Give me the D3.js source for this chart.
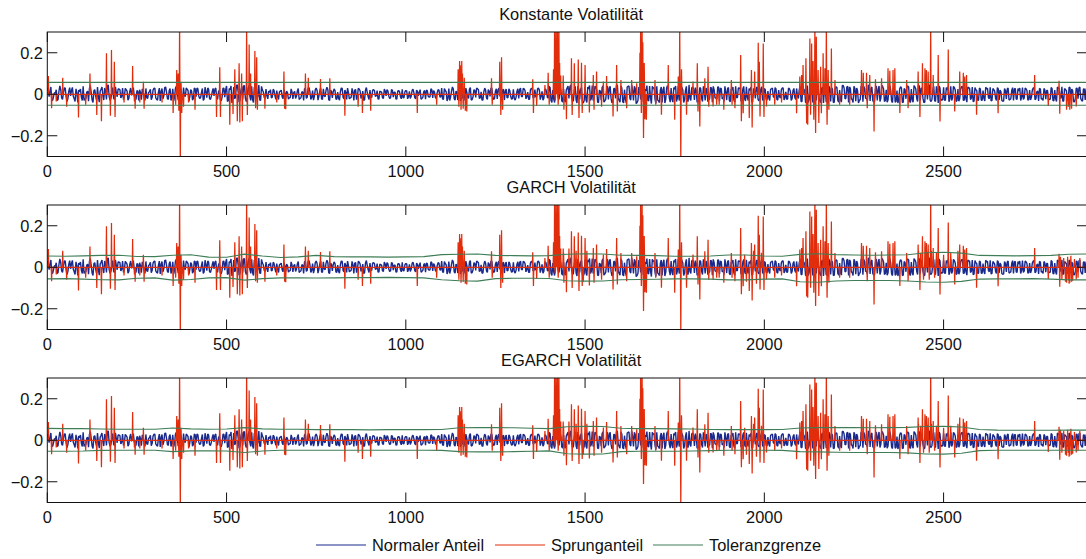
<!DOCTYPE html>
<html>
<head>
<meta charset="utf-8">
<script src="https://cdn.jsdelivr.net/npm/d3@7"></script>
<style>
  body { margin: 0; background: #fff; }
  svg { display: block; }
  text { font-family: "Liberation Sans", Arial, Helvetica, sans-serif; fill: #111; }
</style>
</head>
<body>
<svg id="chart" width="1086" height="559"></svg>
<script>
// ---- data -------------------------------------------------------------
const xTicks = [0, 500, 1000, 1500, 2000, 2500];
const yTicks = [-0.2, 0, 0.2];
const panelTitles = ["Konstante Volatilität", "GARCH Volatilität", "EGARCH Volatilität"];
const legendLabels = ["Normaler Anteil", "Sprunganteil", "Toleranzgrenze"];

// normal (diffusive) part in units of 1e-3:
// normalPart at observations 0, 5, 10, ...; normalPartMid at 2.5, 7.5, 12.5, ...
const normalStep = 5;
const normalPart = [
  28,-12,35,-30,8,22,-25,40,-18,5,30,-35,15,-8,33,-22,26,-40,12,-15,
  38,-20,10,-33,42,-28,18,-10,35,-38,24,-5,30,-25,45,-30,8,-20,36,-12,
  25,-18,30,-10,22,-28,14,-6,32,-22,18,-30,8,26,-15,28,-20,12,-26,20,
  30,-25,10,-32,28,-8,35,-20,18,-30,26,-12,38,-28,15,-22,32,-10,24,-34,
  22,-28,30,-12,26,-20,8,-30,34,-16,24,-26,12,-8,30,-24,20,-32,28,-14,
  40,-30,22,-42,35,-15,45,-38,18,-25,42,-35,28,-10,38,-40,25,-20,44,-30,
  20,-15,25,-22,10,-18,24,-8,18,-25,15,-12,22,-20,8,-16,26,-22,14,-10,
  28,-20,12,-30,25,-15,32,-25,18,-10,30,-28,15,-22,26,-12,34,-26,20,-18,
  26,-22,10,-28,30,-15,20,-25,8,-18,28,-30,22,-10,25,-20,15,-26,32,-12,
  20,-15,22,-10,18,-24,12,-18,25,-8,16,-20,22,-14,10,-22,18,-12,24,-16,
  18,-22,14,-10,24,-16,20,-8,22,-20,12,-24,18,-14,26,-18,10,-20,22,-12,
  30,-25,18,-32,28,-12,35,-22,15,-28,30,-18,25,-30,10,-20,32,-26,22,-15,
  26,-20,12,-28,30,-18,22,-10,28,-25,16,-22,30,-12,20,-28,25,-15,18,-24,
  24,-28,15,-20,30,-12,26,-22,10,-25,28,-18,22,-10,30,-26,14,-20,25,-16,
  38,-30,20,-40,35,-15,42,-32,25,-38,30,-20,45,-35,18,-28,40,-25,32,-42,
  36,-40,25,-30,42,-18,35,-38,20,-28,40,-32,15,-25,38,-42,28,-20,44,-30,
  40,-35,22,-42,38,-20,45,-30,28,-40,35,-25,42,-38,18,-30,40,-45,30,-22,
  38,-32,20,-40,36,-25,42,-18,30,-38,25,-35,40,-22,32,-40,18,-28,45,-30,
  35,-28,18,-36,32,-20,38,-30,15,-25,34,-38,22,-18,36,-32,26,-15,38,-28,
  32,-36,20,-28,38,-15,30,-34,25,-22,36,-30,18,-38,28,-20,35,-32,22,-25,
  28,-24,15,-30,26,-12,32,-25,20,-18,30,-28,12,-22,26,-30,18,-15,28,-20,
  38,-35,22,-40,42,-25,35,-38,20,-30,44,-32,28,-42,36,-18,40,-35,25,-38,
  36,-30,20,-38,42,-22,35,-40,28,-25,38,-34,18,-30,40,-36,25,-20,44,-32,
  35,-38,25,-30,40,-20,38,-35,22,-28,42,-32,30,-38,18,-25,36,-40,28,-22,
  40,-32,25,-38,35,-20,42,-30,28,-40,36,-25,45,-35,20,-30,38,-42,30,-25,
  34,-30,20,-36,38,-18,32,-35,25,-22,36,-30,15,-38,30,-25,35,-32,22,-28,
  30,-28,18,-32,26,-15,34,-30,22,-20,32,-28,12,-34,28,-22,30,-25,18,-30,
  28,-25,15,-30,32,-18,26,-28,20,-15,30,-26,12,-32,25,-20,28,-24,18,-22,
  32,-30,20,-35,28,-15,36,-32,22,-25,34,-28,18,-36,30,-22,35,-30,25,-28
];
const normalPartMid = [
  20,15,-28,-10,5,-30,14,22,-25,30,-12,-20,32,18,-10,-35,6,20,25,-30,
  -30,-22,15,28,8,-40,22,-30,-12,15,35,-28,18,40,-10,-20,32,-25,8,25,
  22,-10,-25,28,15,-20,30,18,-8,-25,14,22,-26,12,-30,-18,8,24,-15,28,
  -18,-28,30,15,-22,32,10,-25,28,-12,-32,30,15,-20,26,-28,-8,30,18,-12,
  15,-20,26,30,-8,-18,28,-22,12,30,-20,-10,28,24,-18,12,-26,-15,30,22,
  -35,28,40,-18,-22,42,10,-30,38,40,-20,-15,42,-30,-25,35,45,-10,-28,38,
  12,-20,-8,15,22,-14,18,-25,-10,12,20,-22,6,15,-24,-18,12,8,-20,16,
  -25,-18,10,28,-20,30,12,-15,-28,22,18,-10,30,-25,-8,20,22,-30,15,12,
  18,-25,-20,12,28,-22,10,30,-22,-15,12,20,-26,28,16,-10,-30,20,8,-25,
  -14,20,18,-8,-22,15,10,-20,16,22,-8,-18,20,10,-24,15,12,-22,-18,12,
  16,-12,-20,18,8,-22,14,10,-24,-15,18,20,-10,-12,22,18,-16,8,20,-14,
  -22,28,12,-20,-30,15,25,-28,10,22,-32,-18,20,30,-15,25,-28,-12,18,30,
  22,-18,-28,10,20,-25,15,30,-12,-20,26,22,-8,-28,24,15,-18,26,-10,-20,
  -20,-15,26,22,-10,28,18,-12,-24,20,28,-15,-14,26,20,-10,-28,22,12,-18,
  32,-40,-22,28,42,-25,18,-38,-30,20,40,35,-15,-30,38,-42,20,25,-35,-30,
  -28,35,42,-20,-30,38,22,-40,15,32,-38,-25,40,30,-20,-35,28,42,-18,-38,
  30,-42,-25,35,40,-28,20,38,-45,-30,22,40,-35,25,42,-32,-18,38,30,-45,
  -28,-40,35,22,-42,30,20,-38,-25,32,40,-18,-30,42,22,-28,38,-35,-20,30,
  25,32,-38,-20,28,-35,15,30,-36,-22,30,38,-18,-25,34,30,-22,-36,12,28,
  -30,25,35,-38,-18,30,28,-22,38,-32,-15,28,34,-36,20,30,-25,-18,36,-32,
  22,-28,-18,25,30,-15,26,-28,-12,22,30,-18,-25,30,15,-20,28,-25,-10,22,
  -35,42,20,-38,-40,28,25,-35,42,30,-18,-40,35,22,-38,-44,28,30,-40,25,
  32,-38,-25,42,30,-20,38,35,-22,-40,28,30,-42,-25,35,38,-20,-32,40,28,
  -30,-35,40,22,-35,42,25,-30,-38,28,20,-40,32,-35,-42,25,30,-38,22,32,
  35,-40,-28,42,25,-35,40,30,-20,-38,32,42,-28,-25,38,-35,22,40,-30,-28,
  -28,32,36,-22,-30,38,20,-30,-34,25,38,-28,-22,35,30,-20,-36,32,18,-30,
  25,-30,-20,34,28,-22,-32,28,15,-30,26,20,-30,-32,18,25,-28,-22,32,26,
  -22,28,30,-15,-25,30,18,-26,-28,20,32,-22,15,28,-24,-30,20,18,-28,-25,
  28,-32,-22,35,30,-20,-34,28,18,-30,32,25,-36,-22,28,30,-20,-34,25,28
];

// jump part: [observation, return]; zero everywhere else
const jumpsShared = [
  [3,0.088],[12,-0.067],[25,-0.035],[43,0.08],[54,-0.06],[87,-0.112],[107,-0.05],[119,0.1],
  [138,-0.1],[151,-0.13],[165,0.197],[176,-0.104],[179,0.213],[187,0.157],[189,-0.11],[214,-0.04],
  [238,0.136],[243,-0.035],[245,-0.07],[258,-0.04],[268,0.06],[270,-0.07],[320,-0.04],[351,-0.09],
  [358,-0.05],[361,0.117],[365,0.1],[367,-0.08],[369,0.34],[371,-0.34],[373,0.06],[375,-0.09],
  [380,-0.06],[394,-0.04],[412,-0.075],[472,-0.11],[481,0.13],[483,-0.11],[509,-0.147],[518,-0.095],
  [523,0.12],[530,-0.13],[535,0.149],[537,-0.136],[542,0.1],[544,-0.13],[556,0.34],[558,-0.1],
  [563,0.24],[567,0.1],[579,0.208],[581,-0.067],[584,0.178],[586,-0.075],[607,-0.07],[640,-0.04],
  [660,0.109],[662,-0.07],[665,-0.072],[720,0.1],[728,0.08],[762,0.074],[788,0.077],[830,-0.104],
  [867,-0.06],[879,-0.09],[902,-0.08],[1032,-0.09],[1086,-0.05],
  [1146,0.12],[1148,-0.06],[1150,0.16],[1152,0.14],[1154,-0.075],[1156,0.16],[1158,0.1],[1160,-0.07],
  [1163,0.08],[1166,-0.08],[1170,-0.083],[1239,0.077],[1241,-0.05],[1262,0.157],[1265,-0.1],[1267,0.178],
  [1270,-0.075],[1354,0.072],[1356,-0.09],[1365,-0.056],[1388,0.045],[1397,0.104],[1400,-0.05],
  [1412,0.12],[1415,0.34],[1417,-0.03],[1419,0.34],[1421,0.2],[1423,0.34],[1425,-0.05],[1427,0.34],
  [1429,0.15],[1432,0.09],[1439,0.09],[1441,-0.075],[1448,-0.12],[1462,0.173],[1464,-0.1],[1470,0.149],
  [1481,0.168],[1483,-0.115],[1490,0.152],[1492,-0.09],[1500,0.141],[1512,-0.088],[1523,0.093],[1525,-0.075],
  [1532,0.109],[1546,-0.06],[1551,0.061],[1560,0.088],[1578,-0.107],[1588,0.141],[1590,-0.083],[1600,0.069],
  [1616,-0.067],[1630,0.069],[1644,0.053],[1653,0.2],[1655,0.34],[1657,-0.09],[1659,0.34],[1661,0.25],
  [1663,-0.211],[1665,0.15],[1667,-0.12],[1671,-0.123],[1695,0.069],[1697,-0.05],[1713,-0.099],[1732,0.141],
  [1750,-0.123],[1760,0.085],[1764,0.34],[1767,-0.34],[1769,0.12],[1783,-0.099],[1801,0.061],[1813,0.149],
  [1815,-0.083],[1820,-0.155],[1834,0.077],[1843,0.133],[1845,-0.06],[1857,-0.059],[1867,-0.05],[1874,-0.05],
  [1887,-0.075],[1908,0.069],[1910,-0.05],[1918,-0.067],[1934,0.189],[1936,-0.13],[1941,-0.091],[1958,-0.115],
  [1964,0.117],[1966,-0.16],[1973,0.109],[1983,0.248],[1986,0.157],[1988,-0.107],[1997,0.245],[1999,-0.11],
  [2006,-0.059],[2029,-0.051],[2048,-0.04],[2090,-0.091],[2099,0.085],[2104,0.093],[2108,0.141],[2116,0.173],
  [2118,-0.141],[2121,-0.147],[2127,0.269],[2129,-0.099],[2132,0.245],[2136,0.16],[2138,-0.123],[2141,0.34],
  [2143,-0.187],[2145,0.277],[2150,0.117],[2152,-0.139],[2157,0.133],[2159,-0.091],[2164,0.197],[2169,0.125],
  [2173,0.34],[2175,-0.147],[2178,0.117],[2180,-0.075],[2187,0.221],[2197,0.069],[2210,-0.051],[2238,-0.05],
  [2271,0.117],[2276,0.104],[2285,0.104],[2287,-0.067],[2294,0.093],[2306,-0.179],[2310,0.072],[2327,0.077],
  [2345,0.125],[2350,0.113],[2359,0.117],[2364,0.125],[2378,-0.09],[2397,0.069],[2401,-0.067],[2429,0.109],
  [2434,-0.11],[2441,0.149],[2448,0.125],[2452,0.117],[2457,0.109],[2464,0.34],[2471,0.093],[2485,0.189],
  [2490,-0.131],[2513,0.216],[2531,-0.083],[2545,0.109],[2555,0.104],[2559,0.085],[2564,0.093],[2592,-0.099],
  [2652,-0.091],[2754,0.093],[2792,-0.056],[2822,0.065],[2824,-0.094],[2843,-0.075],[2848,-0.06],[2852,-0.075],
  [2857,-0.07],[2870,-0.059]
];
// additional jumps flagged under the time-varying volatility models
const jumpsModelExtra = [
  [1440,0.07],[1455,0.09],[1475,0.08],[1495,-0.07],[1505,0.08],
  [1945,0.06],[1950,-0.07],[1970,0.08],[1978,-0.08],[1992,0.07],
  [2430,0.08],[2436,0.07],[2444,-0.06],[2455,0.075],[2460,-0.06],[2466,0.08],[2475,-0.05],[2480,0.07],
  [2500,0.06],[2520,0.07],[2540,0.08],
  [2826,0.05],[2830,-0.06],[2835,0.045],[2840,-0.07],[2846,0.05],[2850,-0.08],[2855,0.055],
  [2860,-0.065],[2865,0.04],[2875,-0.05],[2880,0.045]
];

// tolerance limits, one value every 50 observations
const tolStep = 50;
const tolConstUpper = 0.057;
const tolConstLower = -0.053;
const tolGarchUpper = [
  0.054,0.053,0.055,0.057,0.058,0.052,0.051,0.058,0.060,0.049,0.048,0.063,0.054,0.047,0.050,0.057,
  0.051,0.050,0.050,0.049,0.050,0.051,0.061,0.063,0.064,0.057,0.056,0.055,0.056,0.063,0.065,0.064,
  0.058,0.057,0.056,0.053,0.053,0.054,0.059,0.059,0.054,0.053,0.062,0.065,0.061,0.059,0.058,0.059,
  0.060,0.070,0.072,0.068,0.057,0.056,0.055,0.056,0.057,0.063,0.064
];
const tolGarchLower = [
  -0.056,-0.055,-0.057,-0.060,-0.061,-0.053,-0.051,-0.062,-0.059,-0.051,-0.050,-0.062,-0.055,-0.051,-0.051,-0.052,
  -0.051,-0.050,-0.050,-0.049,-0.050,-0.051,-0.060,-0.065,-0.067,-0.055,-0.053,-0.053,-0.054,-0.065,-0.067,-0.066,
  -0.060,-0.059,-0.058,-0.056,-0.056,-0.057,-0.061,-0.061,-0.057,-0.056,-0.070,-0.072,-0.066,-0.064,-0.064,-0.064,
  -0.066,-0.071,-0.072,-0.068,-0.057,-0.056,-0.056,-0.055,-0.057,-0.061,-0.061
];
const tolEgarchUpper = [
  0.057,0.056,0.056,0.054,0.053,0.053,0.053,0.059,0.055,0.053,0.054,0.061,0.055,0.053,0.053,0.051,
  0.051,0.051,0.050,0.051,0.051,0.051,0.052,0.060,0.061,0.061,0.060,0.058,0.056,0.065,0.067,0.066,
  0.058,0.056,0.056,0.055,0.054,0.052,0.051,0.051,0.051,0.052,0.059,0.061,0.061,0.061,0.060,0.061,
  0.062,0.066,0.067,0.064,0.052,0.049,0.048,0.048,0.048,0.049,0.049
];
const tolEgarchLower = [
  -0.053,-0.053,-0.052,-0.049,-0.048,-0.048,-0.048,-0.055,-0.051,-0.051,-0.052,-0.059,-0.052,-0.048,-0.048,-0.048,
  -0.048,-0.048,-0.048,-0.048,-0.048,-0.048,-0.049,-0.055,-0.056,-0.056,-0.055,-0.053,-0.051,-0.065,-0.067,-0.066,
  -0.055,-0.053,-0.053,-0.053,-0.052,-0.050,-0.048,-0.048,-0.048,-0.049,-0.055,-0.056,-0.058,-0.059,-0.059,-0.059,
  -0.061,-0.066,-0.067,-0.063,-0.050,-0.048,-0.048,-0.048,-0.048,-0.048,-0.048
];

// ---- layout -----------------------------------------------------------
const colors = { normal: "#1a2a8c", jump: "#e22d0c", tol: "#3f7d57" };
const xDomain = [0, 2900];
const plotLeft = 47.3, plotRight = 1087;
const panelTops = [32, 205, 378];
const panelHeight = 124.5;
const tickLen = 10;
const fontSize = 16.4;

const svg = d3.select("#chart");
const x = d3.scaleLinear().domain(xDomain).range([plotLeft, plotRight]);

const normalSeries = [];
normalPart.forEach((v, i) => {
  normalSeries.push([i * normalStep, v / 1000]);
  if (i < normalPartMid.length) normalSeries.push([i * normalStep + normalStep / 2, normalPartMid[i] / 1000]);
});

function jumpSeries(list) {
  const sorted = list.slice().sort((a, b) => a[0] - b[0]);
  const pts = [[xDomain[0], 0]];
  sorted.forEach(([t, v]) => { pts.push([t - 1, 0], [t, v], [t + 1, 0]); });
  pts.push([xDomain[1], 0]);
  return pts;
}
function tolSeries(arr) { return arr.map((v, i) => [i * tolStep, v]); }
function constSeries(v) { return [[xDomain[0], v], [xDomain[1], v]]; }

const panels = [
  { title: panelTitles[0], jumps: jumpSeries(jumpsShared),
    upper: constSeries(tolConstUpper), lower: constSeries(tolConstLower) },
  { title: panelTitles[1], jumps: jumpSeries(jumpsShared.concat(jumpsModelExtra)),
    upper: tolSeries(tolGarchUpper), lower: tolSeries(tolGarchLower) },
  { title: panelTitles[2], jumps: jumpSeries(jumpsShared.concat(jumpsModelExtra)),
    upper: tolSeries(tolEgarchUpper), lower: tolSeries(tolEgarchLower) }
];

panels.forEach((p, k) => {
  const top = panelTops[k];
  const y = d3.scaleLinear().domain([-0.3, 0.3]).range([top + panelHeight, top]);
  const line = d3.line().x(d => x(d[0])).y(d => y(d[1]));

  const clipId = "clip" + k;
  svg.append("clipPath").attr("id", clipId)
    .append("rect").attr("x", plotLeft).attr("y", top)
    .attr("width", plotRight - plotLeft).attr("height", panelHeight);

  const g = svg.append("g").attr("clip-path", `url(#${clipId})`);
  g.append("path").datum(normalSeries).attr("d", line)
    .attr("fill", "none").attr("stroke", colors.normal).attr("stroke-width", 1.4)
    .attr("stroke-linejoin", "bevel");
  g.append("path").datum(p.jumps).attr("d", line)
    .attr("fill", "none").attr("stroke", colors.jump).attr("stroke-width", 1.25)
    .attr("stroke-linejoin", "bevel");
  [p.upper, p.lower].forEach(s => {
    g.append("path").datum(s).attr("d", line)
      .attr("fill", "none").attr("stroke", colors.tol).attr("stroke-width", 1.1);
  });

  // frame and inward ticks on all four sides
  const ax = svg.append("g").attr("stroke", "#111").attr("stroke-width", 1).attr("fill", "none");
  ax.append("rect").attr("x", plotLeft).attr("y", top)
    .attr("width", plotRight - plotLeft).attr("height", panelHeight);
  xTicks.forEach(t => {
    const px = x(t);
    ax.append("line").attr("x1", px).attr("x2", px).attr("y1", top + panelHeight).attr("y2", top + panelHeight - tickLen);
    ax.append("line").attr("x1", px).attr("x2", px).attr("y1", top).attr("y2", top + tickLen);
  });
  yTicks.forEach(t => {
    const py = y(t);
    ax.append("line").attr("x1", plotLeft).attr("x2", plotLeft + tickLen).attr("y1", py).attr("y2", py);
    ax.append("line").attr("x1", plotRight).attr("x2", plotRight - tickLen).attr("y1", py).attr("y2", py);
  });

  const fmtY = d3.format(".1~f");
  yTicks.forEach(t => {
    svg.append("text").attr("x", 43).attr("y", y(t)).attr("dy", "0.36em")
      .attr("text-anchor", "end").attr("font-size", fontSize)
      .text(t === 0 ? "0" : fmtY(t).replace("-", "\u2212"));
  });
  xTicks.forEach(t => {
    svg.append("text").attr("x", x(t)).attr("y", top + panelHeight + 20.5)
      .attr("text-anchor", "middle").attr("font-size", fontSize).text(t);
  });
  svg.append("text").attr("x", (plotLeft + plotRight) / 2 + 4).attr("y", top - 12)
    .attr("text-anchor", "middle").attr("font-size", fontSize).text(p.title);
});

// ---- legend -----------------------------------------------------------
const legendItems = [
  { label: legendLabels[0], color: colors.normal, x0: 316 },
  { label: legendLabels[1], color: colors.jump, x0: 495 },
  { label: legendLabels[2], color: colors.tol, x0: 653 }
];
const lg = svg.append("g");
legendItems.forEach(it => {
  lg.append("line").attr("x1", it.x0).attr("x2", it.x0 + 50).attr("y1", 545).attr("y2", 545)
    .attr("stroke", it.color).attr("stroke-width", 1.1);
  lg.append("text").attr("x", it.x0 + 56).attr("y", 551).attr("font-size", fontSize).text(it.label);
});
</script>
</body>
</html>
